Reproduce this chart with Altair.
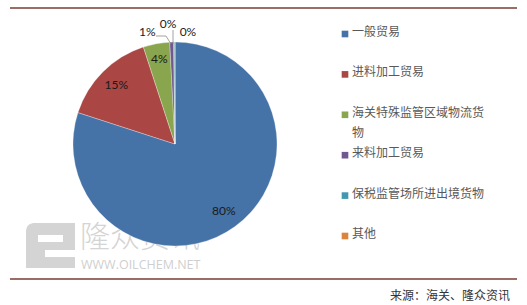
import altair as alt
import pandas as pd

categories = ["一般贸易", "进料加工贸易", "海关特殊监管区域物流货物", "来料加工贸易", "保税监管场所进出境货物", "其他"]
shares = [80.0, 15.0, 4.2, 0.6, 0.2, 0.02]
colors = ["#4572A7", "#AA4643", "#89A54E", "#71588F", "#4198AF", "#DB843D"]
legend_text = ["一般贸易", "进料加工贸易", "海关特殊监管区域物流货\n物", "来料加工贸易", "保税监管场所进出境货物", "其他"]
source_text = "来源：海关、隆众资讯"

df = pd.DataFrame({"cat": categories, "share": shares, "order": list(range(len(categories))), "legend": legend_text})
one = pd.DataFrame({"k": [0]})

W, H = 527, 305
CX, CY, R = 175, 144, 102
CJK = "Noto Sans CJK SC"

color = alt.Color("cat:N", scale=alt.Scale(domain=categories, range=colors), legend=None)
theta = alt.Theta("share:Q", stack=True)
order = alt.Order("order:Q")
base = alt.Chart(df)
single = alt.Chart(one)

# watermark (behind pie)
wm_logo = single.mark_rect(color="#d4d4d4", cornerRadiusTopLeft=8).encode(
    x=alt.value(26), x2=alt.value(75), y=alt.value(223), y2=alt.value(268))
wm_cut1 = single.mark_rect(color="white").encode(
    x=alt.value(38), x2=alt.value(63), y=alt.value(235), y2=alt.value(242))
wm_cut2 = single.mark_rect(color="white").encode(
    x=alt.value(45), x2=alt.value(76), y=alt.value(250), y2=alt.value(257))
wm_text = single.mark_text(align="left", baseline="middle", font=CJK, fontSize=30, fontWeight=300,
                           color="#d4d4d4").encode(x=alt.value(80), y=alt.value(238), text=alt.value("隆众资讯"))
wm_url = single.mark_text(align="left", baseline="middle", font="Open Sans", fontSize=12.5,
                          color="#cfcfcf").encode(x=alt.value(81), y=alt.value(265), text=alt.value("WWW.OILCHEM.NET"))

pie = base.mark_arc(x=CX, y=CY, outerRadius=R, stroke="white", strokeWidth=0.3).encode(
    theta=theta, color=color, order=order)


def label(cat, radius, dx=0, dy=0):
    return base.transform_joinaggregate(total="sum(share)").transform_calculate(
        t=f"datum.cat == '{cat}' ? format(datum.share / datum.total * 100, '.0f') + '%' : ''"
    ).mark_text(x=CX, y=CY, radius=radius, dx=dx, dy=dy, font="Lato", fontSize=12,
                color="#1a1a1a", align="center", baseline="middle").encode(
        theta=theta, order=order, text="t:N")


labels = [
    label(categories[0], 83),
    label(categories[1], 83),
    label(categories[2], 86),
    label(categories[3], 112, dx=-24),
    label(categories[4], 120, dx=-6),
    label(categories[5], 112, dx=13),
]

lead1 = single.mark_rule(color="#8c8c8c", strokeWidth=0.8).encode(
    x=alt.value(156), x2=alt.value(166), y=alt.value(36), y2=alt.value(36))
lead2 = single.mark_rule(color="#8c8c8c", strokeWidth=0.8).encode(
    x=alt.value(166), x2=alt.value(171), y=alt.value(36), y2=alt.value(44))
lead3 = single.mark_rule(color="#8c8c8c", strokeWidth=0.8).encode(
    x=alt.value(173), x2=alt.value(173), y=alt.value(30), y2=alt.value(44))

ly = alt.Y("cat:N", sort=categories,
           scale=alt.Scale(type="point", domain=categories, range=[34, 236], padding=0), axis=None)
leg_sym = base.mark_square(size=44, opacity=1, x=345).encode(y=ly, color=color)
leg_txt = base.mark_text(x=352, align="left", baseline="top", dy=-7, lineBreak="\n", lineHeight=20,
                         font=CJK, fontSize=12, color="#595959").encode(y=ly, text="legend:N")

rule_top = single.mark_rule(color="#7B3B34", strokeWidth=1.5).encode(
    x=alt.value(10), x2=alt.value(517), y=alt.value(8))
rule_bot = single.mark_rule(color="#7B3B34", strokeWidth=1.5).encode(
    x=alt.value(10), x2=alt.value(517), y=alt.value(279))
src = single.mark_text(align="right", baseline="middle", font=CJK, fontSize=12, color="#333333").encode(
    x=alt.value(510), y=alt.value(296), text=alt.value(source_text))

chart = alt.layer(
    wm_logo, wm_cut1, wm_cut2, wm_text, wm_url, pie, *labels, lead1, lead2, lead3,
    leg_sym, leg_txt, rule_top, rule_bot, src
).resolve_scale(theta="shared").properties(
    width=W, height=H, autosize=alt.AutoSizeParams(type="none"), padding=0,
    background="white"
).configure_view(stroke=None)

chart.save("out.html", embed_options={"renderer": "svg", "actions": False})
